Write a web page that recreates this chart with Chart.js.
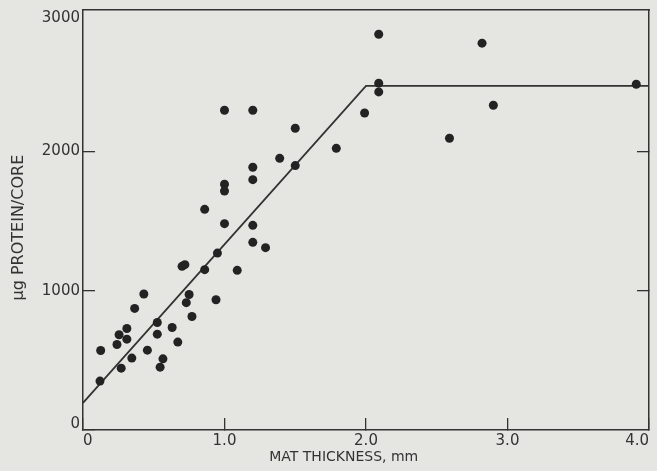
<!DOCTYPE html>
<html>
<head>
<meta charset="utf-8">
<script src="https://cdn.jsdelivr.net/npm/chart.js@4"></script>
<style>
  html, body { margin: 0; padding: 0; background: #e5e5e2; }
  #wrap { width: 657px; height: 471px; }
</style>
</head>
<body>
<div id="wrap"><canvas id="myChart"></canvas></div>
<script>
// mat thickness (mm) and protein per core (ug)
const thickness = [1.0, 1.2, 1.5, 1.39, 1.5, 1.2, 1.2, 1.0, 1.0, 0.86,
  1.0, 1.2, 1.2, 1.29, 0.95, 0.70, 0.72, 0.86, 1.09, 0.43,
  0.75, 0.73, 0.94, 0.365, 0.77, 0.525, 0.31, 0.63, 0.255, 0.525,
  0.31, 0.24, 0.67, 0.125, 0.455, 0.345, 0.565, 0.27, 0.545, 0.12,
  2.09, 2.82, 2.09, 2.09, 1.99, 2.90, 1.79, 2.59, 3.91]
const protein = [2295, 2295, 2166, 1950, 1898, 1886, 1797, 1764, 1716, 1584,
  1481, 1469, 1347, 1309, 1270, 1175, 1187, 1151, 1146, 976,
  973, 914, 935, 873, 815, 772, 729, 736, 684, 688,
  652, 614, 631, 571, 573, 516, 511, 444, 451, 351,
  2841, 2777, 2490, 2427, 2276, 2331, 2022, 2094, 2482]

// fitted broken line
const fitX = [0, 2.0, 4.0]
const fitY = [195, 2470, 2470]

const xTicks = [0, 1, 2, 3, 4]
const xTickLabels = ["0", "1.0", "2.0", "3.0", "4.0"]
const yTicks = [0, 1000, 2000, 3000]
const yTickLabels = ["0", "1000", "2000", "3000"]

const ink = "#333333"
const font = "'DejaVu Sans', sans-serif"

const points = thickness.map((x, i) => ({x: x, y: protein[i]}))
const fit = fitX.map((x, i) => ({x: x, y: fitY[i]}))

function setTicks(values){
  return scale => { scale.ticks = values.map(v => ({value: v})) }
}

// fixed axis sizes, no extra room for overhanging labels
function fixSize(w, h){
  return s => {
    if(w != null) s.width = w
    if(h != null) s.height = h
    s.paddingLeft = 0
    s.paddingRight = 0
    s.paddingTop = 0
    s.paddingBottom = 0
  }
}

new Chart("myChart", {
  type: "scatter",
  data: {
    datasets: [{
      data: points,
      pointRadius: 4.5,
      pointHoverRadius: 4.5,
      backgroundColor: "#232323",
      borderWidth: 0
    }, {
      data: fit,
      showLine: true,
      pointRadius: 0,
      borderColor: ink,
      borderWidth: 1.8,
      fill: false
    }]
  },
  options: {
    responsive: true,
    maintainAspectRatio: false,
    animation: false,
    events: [],
    layout: {padding: {top: 10, right: 8, left: 0, bottom: 0}},
    plugins: {legend: {display: false}, tooltip: {enabled: false}},
    scales: {
      x: {
        type: "linear",
        position: "bottom",
        min: 0, max: 4,
        afterBuildTicks: setTicks(xTicks),
        afterFit: fixSize(null, 41),
        grid: {drawOnChartArea: false, tickLength: -12, color: ink, lineWidth: 1.3},
        border: {color: ink, width: 1.5},
        ticks: {
          color: ink, padding: 14, maxRotation: 0, autoSkip: false, align: "inner",
          font: {family: font, size: 15},
          callback: v => xTickLabels[xTicks.indexOf(v)]
        },
        title: {
          display: true,
          text: "MAT THICKNESS, mm\u00a0\u00a0\u00a0\u00a0\u00a0\u00a0\u00a0\u00a0\u00a0\u00a0",
          color: ink,
          font: {family: font, size: 14},
          padding: {top: 0, bottom: 5}
        }
      },
      x2: {
        type: "linear",
        position: "top",
        min: 0, max: 4,
        afterFit: fixSize(null, 0),
        grid: {drawOnChartArea: false, drawTicks: false},
        border: {color: ink, width: 1.5},
        ticks: {display: false}
      },
      y: {
        type: "linear",
        position: "left",
        min: 0, max: 3015,
        afterBuildTicks: setTicks(yTicks),
        afterFit: fixSize(83, null),
        grid: {
          drawOnChartArea: false, tickLength: -12, color: ink, lineWidth: 1.3,
          tickColor: c => (c.tick && c.tick.value == 3000) ? "rgba(0,0,0,0)" : ink
        },
        border: {color: ink, width: 1.5},
        ticks: {
          color: ink, padding: 15, autoSkip: false,
          font: {family: font, size: 15, lineHeight: 0.8},
          callback: v => {
            const label = yTickLabels[yTicks.indexOf(v)]
            if(v == 0) return [label, ""]
            if(v == 3000) return ["", label]
            return label
          }
        },
        title: {
          display: true, text: "\u03bcg PROTEIN/CORE\u00a0\u00a0\u00a0", color: ink,
          font: {family: font, size: 16},
          padding: {top: 9, bottom: 0}
        }
      },
      y2: {
        type: "linear",
        position: "right",
        min: 0, max: 3015,
        afterBuildTicks: setTicks(yTicks.filter(v => v > 0 && v < 3000)),
        afterFit: fixSize(0, null),
        grid: {drawOnChartArea: false, tickLength: -12, color: ink, lineWidth: 1.3},
        border: {color: ink, width: 1.5},
        ticks: {display: false}
      }
    }
  }
})
</script>
</body>
</html>
